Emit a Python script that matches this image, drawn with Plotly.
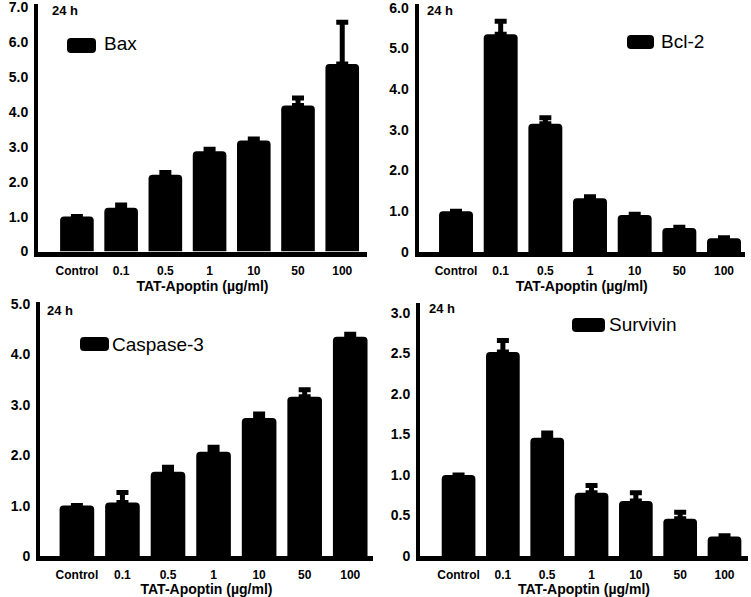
import plotly.graph_objects as go

W, H = 751, 597

categories = ["Control", "0.1", "0.5", "1", "10", "50", "100"]

bax_values = [1.0, 1.25, 2.2, 2.87, 3.18, 4.18, 5.37]
bax_errors = [0, 0.08, 0.06, 0.06, 0.04, 0.22, 1.2]

bcl2_values = [1.0, 5.35, 3.15, 1.32, 0.91, 0.59, 0.34]
bcl2_errors = [0, 0.32, 0.15, 0.04, 0.02, 0.02, 0.01]

casp3_values = [1.0, 1.06, 1.67, 2.07, 2.74, 3.16, 4.35]
casp3_errors = [0, 0.2, 0.09, 0.09, 0.08, 0.14, 0.05]

surv_values = [1.0, 2.52, 1.46, 0.78, 0.68, 0.46, 0.24]
surv_errors = [0, 0.14, 0.06, 0.09, 0.1, 0.08, 0.01]

y_ticks_bax = [0, 1, 2, 3, 4, 5, 6, 7]
y_text_bax = ["0", "1.0", "2.0", "3.0", "4.0", "5.0", "6.0", "7.0"]
y_ticks_bcl2 = [0, 1, 2, 3, 4, 5, 6]
y_text_bcl2 = ["0", "1.0", "2.0", "3.0", "4.0", "5.0", "6.0"]
y_ticks_casp3 = [0, 1, 2, 3, 4, 5]
y_text_casp3 = ["0", "1.0", "2.0", "3.0", "4.0", "5.0"]
y_ticks_surv = [0, 0.5, 1.0, 1.5, 2.0, 2.5, 3.0]
y_text_surv = ["0", "0.5", "1.0", "1.5", "2.0", "2.5", "3.0"]

names = ["Bax", "Bcl-2", "Caspase-3", "Survivin"]
x_title = "TAT-Apoptin (µg/ml)"
time_label = "24 h"

FONT = "Liberation Sans, Arial, sans-serif"

panels = [
    dict(vals=bax_values, errs=bax_errors, tv=y_ticks_bax, tt=y_text_bax,
         xpx=(38, 367), xr=(-0.88, 6.56), ypx=(3.7, 251.5), yr=(0, 7.1),
         leg=(67, 96, 38, 53), legtext=(102, 43), tlab=(50, 10)),
    dict(vals=bcl2_values, errs=bcl2_errors, tv=y_ticks_bcl2, tt=y_text_bcl2,
         xpx=(418.5, 745), xr=(-0.84, 6.47), ypx=(3.7, 252), yr=(0, 6.1),
         leg=(627, 654, 35, 49), legtext=(659, 41), tlab=(425, 10)),
    dict(vals=casp3_values, errs=casp3_errors, tv=y_ticks_casp3, tt=y_text_casp3,
         xpx=(40, 373), xr=(-0.81, 6.5), ypx=(301.5, 556), yr=(0, 5.05),
         leg=(80, 109, 337, 351), legtext=(110, 344), tlab=(45, 310)),
    dict(vals=surv_values, errs=surv_errors, tv=y_ticks_surv, tt=y_text_surv,
         xpx=(420, 748), xr=(-0.87, 6.53), ypx=(303.3, 556), yr=(0, 3.12),
         leg=(572, 605, 318, 332), legtext=(607, 324), tlab=(427, 308)),
]

fig = go.Figure()
shapes = []
annotations = []


def px_x(v):
    return v / W


def px_y(v):
    return 1 - v / H


def rounded_rect(x0, x1, y0, y1, r=4):
    rx, ry = r / W, r / H
    X0, X1 = px_x(x0), px_x(x1)
    Y0, Y1 = px_y(y1), px_y(y0)
    return (f"M{X0+rx},{Y0} L{X1-rx},{Y0} Q{X1},{Y0} {X1},{Y0+ry} "
            f"L{X1},{Y1-ry} Q{X1},{Y1} {X1-rx},{Y1} L{X0+rx},{Y1} "
            f"Q{X0},{Y1} {X0},{Y1-ry} L{X0},{Y0+ry} Q{X0},{Y0} {X0+rx},{Y0} Z")


layout = {}
for i, p in enumerate(panels):
    n = "" if i == 0 else str(i + 1)
    fig.add_trace(go.Bar(
        x=categories, y=p["vals"], name=names[i],
        xaxis="x" + n, yaxis="y" + n,
        marker=dict(color="black", cornerradius=4, line=dict(width=0)),
        error_y=dict(type="data", symmetric=False, array=p["errs"],
                     arrayminus=[0] * len(p["errs"]),
                     color="black", thickness=5, width=6),
        showlegend=False,
    ))
    layout["xaxis" + n] = dict(
        domain=[px_x(p["xpx"][0]), px_x(p["xpx"][1])],
        anchor="y" + n, range=list(p["xr"]), type="category",
        showline=True, linewidth=5, linecolor="black", ticks="",
        showgrid=False, zeroline=False, automargin=False,
        ticklabeloverflow="allow",
        tickfont=dict(family=FONT, size=12, color="black", weight="bold"),
        ticklabelstandoff=4,
        title=dict(text=x_title, standoff=3,
                   font=dict(family=FONT, size=14, color="black", weight="bold")),
    )
    layout["yaxis" + n] = dict(
        domain=[px_y(p["ypx"][1]), px_y(p["ypx"][0])],
        anchor="x" + n, range=list(p["yr"]),
        showline=True, linewidth=4, linecolor="black", ticks="",
        showgrid=False, zeroline=False, automargin=False,
        ticklabeloverflow="allow",
        tickvals=p["tv"], ticktext=p["tt"],
        tickfont=dict(family=FONT, size=14, color="black", weight="bold"),
        ticklabelstandoff=3,
    )
    lx0, lx1, ly0, ly1 = p["leg"]
    shapes.append(dict(type="path", xref="paper", yref="paper",
                       path=rounded_rect(lx0, lx1, ly0, ly1),
                       fillcolor="black", line=dict(width=0)))
    annotations.append(dict(xref="paper", yref="paper",
                            x=px_x(p["legtext"][0]), y=px_y(p["legtext"][1]),
                            xanchor="left", yanchor="middle", showarrow=False,
                            text=names[i],
                            font=dict(family=FONT, size=19, color="black")))
    annotations.append(dict(xref="paper", yref="paper",
                            x=px_x(p["tlab"][0]), y=px_y(p["tlab"][1]),
                            xanchor="left", yanchor="middle", showarrow=False,
                            text=time_label,
                            font=dict(family=FONT, size=13, color="black",
                                      weight="bold")))

fig.update_layout(
    width=W, height=H,
    margin=dict(l=0, r=0, t=0, b=0, autoexpand=False),
    paper_bgcolor="white", plot_bgcolor="white",
    bargap=0.24,
    shapes=shapes, annotations=annotations,
    **layout,
)

fig.write_html(
    "out.html",
    config={"displayModeBar": False},
    post_script="document.body.style.margin='0';document.body.style.overflow='hidden';",
)
